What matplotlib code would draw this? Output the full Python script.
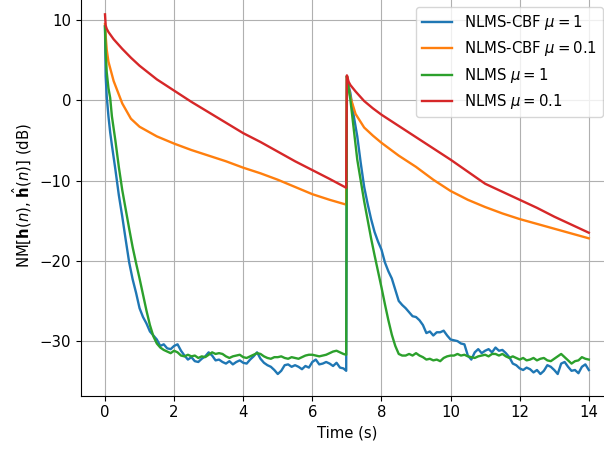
import matplotlib
matplotlib.use('Agg')
import matplotlib.pyplot as plt

plt.rcParams['font.size'] = 10.7
plt.rcParams['lines.linewidth'] = 1.7

# time axes (s)
t_fast = [0, 0.02, 0.05, 0.1, 0.15, 0.2, 0.3, 0.4, 0.5, 0.6, 0.7, 0.8, 0.9,
          1.0, 1.1, 1.2, 1.3, 1.4, 1.5, 1.6, 1.7, 1.8, 1.9,
          2.0, 2.1, 2.2, 2.3, 2.4, 2.5, 2.6, 2.7, 2.8, 2.9,
          3.0, 3.1, 3.2, 3.3, 3.4, 3.5, 3.6, 3.7, 3.8, 3.9,
          4.0, 4.1, 4.2, 4.3, 4.4, 4.5, 4.6, 4.7, 4.8, 4.9,
          5.0, 5.1, 5.2, 5.3, 5.4, 5.5, 5.6, 5.7, 5.8, 5.9,
          6.0, 6.1, 6.2, 6.3, 6.4, 6.5, 6.6, 6.7, 6.8, 6.9, 6.98,
          7.0, 7.05, 7.1, 7.2, 7.3, 7.4, 7.5, 7.6, 7.7, 7.8, 7.9,
          8.0, 8.1, 8.2, 8.3, 8.4, 8.5, 8.6, 8.7, 8.8, 8.9,
          9.0, 9.1, 9.2, 9.3, 9.4, 9.5, 9.6, 9.7, 9.8, 9.9,
          10.0, 10.1, 10.2, 10.3, 10.4, 10.5, 10.6, 10.7, 10.8, 10.9,
          11.0, 11.1, 11.2, 11.3, 11.4, 11.5, 11.6, 11.7, 11.8, 11.9,
          12.0, 12.1, 12.2, 12.3, 12.4, 12.5, 12.6, 12.7, 12.8, 12.9,
          13.0, 13.1, 13.2, 13.3, 13.4, 13.5, 13.6, 13.7, 13.8, 13.9, 14.0]

t_slow = [0, 0.02, 0.05, 0.1, 0.25, 0.5, 0.75, 1.0, 1.5, 2.0, 2.5, 3.0, 3.5,
          4.0, 4.5, 5.0, 5.5, 6.0, 6.5, 6.98,
          7.0, 7.05, 7.1, 7.25, 7.5, 7.75, 8.0, 8.5, 9.0, 9.5, 10.0, 10.5,
          11.0, 11.5, 12.0, 12.5, 13.0, 13.5, 14.0]

# NM in dB
cbf_mu1 = [9.2, 3.0, 0.5, -2.0, -4.0, -5.6, -8.6, -11.8, -14.5, -17.4, -20.2, -22.3, -24.0,
           -25.9, -27.0, -27.8, -28.8, -29.3, -29.8, -30.6, -30.4, -30.9, -31.0,
           -30.6, -30.4, -31.2, -31.8, -32.3, -32.0, -32.5, -32.6, -32.2, -31.9,
           -31.4, -31.8, -32.4, -32.3, -32.6, -32.8, -32.5, -32.9, -32.6, -32.4,
           -32.7, -32.8, -32.3, -31.9, -31.4, -32.2, -32.7, -33.0, -33.2, -33.6,
           -34.1, -33.7, -33.0, -32.9, -33.2, -33.0, -33.2, -33.5, -33.1, -33.3,
           -32.6, -32.3, -32.9, -32.8, -32.6, -32.8, -33.1, -32.7, -33.3, -33.4, -33.7,
           3.0, 1.8, 0.9, -2.0, -4.5, -7.8, -10.8, -12.9, -14.8, -16.4, -17.6,
           -18.6, -20.2, -21.3, -22.2, -23.6, -25.0, -25.5, -25.9, -26.4, -26.9,
           -27.0, -27.4, -28.0, -29.0, -28.8, -29.3, -28.9, -28.9, -28.7, -29.3,
           -29.8, -29.9, -30.0, -30.3, -30.4, -31.8, -32.3, -31.4, -31.0, -31.5,
           -31.2, -31.0, -31.4, -30.8, -31.2, -31.1, -31.5, -32.0, -32.8, -33.0,
           -33.4, -33.6, -33.3, -33.5, -33.9, -33.6, -34.1, -33.7, -33.0, -33.2,
           -33.6, -34.1, -32.8, -32.6, -33.2, -33.7, -33.6, -34.0, -33.2, -32.9, -33.6]

nlms_mu1 = [9.2, 6.0, 3.5, 1.5, 0.3, -2.0, -5.0, -8.3, -11.2, -13.6, -16.0, -18.3, -20.3,
            -22.2, -24.2, -26.2, -28.0, -29.4, -30.3, -30.8, -31.1, -31.3, -31.5,
            -31.2, -31.4, -31.8, -31.9, -31.7, -31.9, -31.8, -32.1, -31.9, -32.0,
            -31.7, -31.4, -31.6, -31.5, -31.6, -31.9, -32.1, -31.9, -31.8, -31.7,
            -32.0, -32.1, -31.9, -31.7, -31.5, -31.6, -31.9, -32.1, -32.2, -32.0,
            -32.0, -31.9, -32.1, -32.2, -32.0, -32.1, -32.2, -32.0, -31.8, -31.7,
            -31.7, -31.8, -31.9, -31.8, -31.7, -31.5, -31.3, -31.2, -31.4, -31.6, -31.7,
            3.0, 1.5, 0.1, -3.7, -7.4, -10.0, -12.6, -14.9, -17.2, -19.3, -21.3,
            -23.3, -25.4, -27.4, -29.2, -30.6, -31.6, -31.8, -31.8, -31.6, -31.8,
            -31.5, -31.8, -32.0, -32.3, -32.2, -32.4, -32.3, -32.5, -32.1, -31.9,
            -31.8, -31.8, -31.6, -31.8, -31.7, -31.9, -32.0, -32.1, -31.9, -31.8,
            -31.7, -31.9, -31.6, -31.6, -31.8, -31.6, -31.9, -32.1, -31.9, -32.1,
            -32.3, -32.1, -32.4, -32.3, -32.1, -32.4, -32.2, -32.1, -32.4, -32.5,
            -32.2, -31.9, -31.6, -32.0, -32.4, -32.8, -32.5, -32.4, -32.0, -32.2, -32.3]

cbf_mu01 = [9.5, 8.0, 6.3, 4.8, 2.4, -0.4, -2.3, -3.3, -4.5, -5.4, -6.2, -6.9, -7.6,
            -8.4, -9.1, -9.9, -10.8, -11.7, -12.4, -13.0,
            3.0, 1.5, 0.4, -1.7, -3.4, -4.4, -5.3, -6.9, -8.3, -9.9, -11.3, -12.4,
            -13.3, -14.1, -14.8, -15.4, -16.0, -16.6, -17.2]

nlms_mu01 = [10.7, 9.3, 8.9, 8.5, 7.6, 6.4, 5.3, 4.3, 2.6, 1.2, -0.2, -1.5, -2.8,
             -4.1, -5.2, -6.4, -7.6, -8.7, -9.8, -10.9,
             3.1, 2.3, 1.9, 1.1, -0.1, -1.0, -1.8, -3.2, -4.6, -6.0, -7.4, -8.9,
             -10.4, -11.4, -12.4, -13.4, -14.5, -15.5, -16.5]

fig = plt.figure(figsize=(6.04, 4.5), dpi=100)
# the reference is cropped: top and right spines fall outside the picture
ax = fig.add_axes([80.8 / 604, 54.3 / 450, 532.2 / 604, 399.5 / 450])

ax.plot(t_fast, cbf_mu1, label=r'NLMS-CBF $\mu = 1$')
ax.plot(t_slow, cbf_mu01, label=r'NLMS-CBF $\mu = 0.1$')
ax.plot(t_fast, nlms_mu1, label=r'NLMS $\mu = 1$')
ax.plot(t_slow, nlms_mu01, label=r'NLMS $\mu = 0.1$')

ax.set_xlim(-0.7, 14.7)
ax.set_ylim(-36.8, 12.96)
ax.set_xticks(range(0, 15, 2))
ax.set_yticks([-30, -20, -10, 0, 10])
ax.spines['right'].set_visible(False)
ax.spines['top'].set_visible(False)
ax.grid(True)
ax.set_xlabel('Time (s)')
ax.set_ylabel(r'NM[$\mathbf{h}(n)$, $\hat{\mathbf{h}}(n)$] (dB)')
ax.legend(loc='upper right', bbox_to_anchor=(0.9807, 0.973), borderaxespad=0)

fig.savefig('out.png', dpi=100)
